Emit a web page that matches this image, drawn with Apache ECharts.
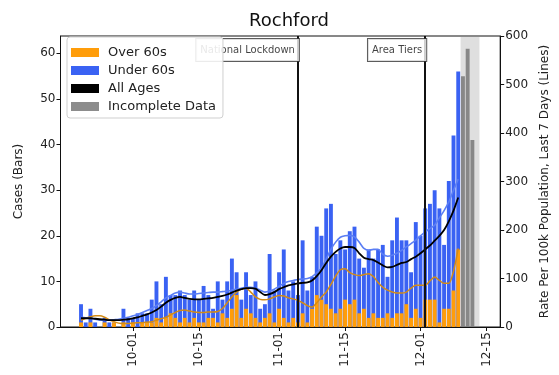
<!DOCTYPE html>
<html><head><meta charset="utf-8">
<script src="https://cdn.jsdelivr.net/npm/echarts@6/dist/echarts.min.js"></script>
<style>html,body{margin:0;padding:0;background:#fff}#c{width:559px;height:375px}</style>
</head><body><div id="c"></div>
<script>
const chartTitle = 'Rochford';
const firstDate = '2020-09-20';
// daily cases, over 60s (orange, bottom of stack)
const over60 = [1,0,1,0,0,1,0,1,0,1,0,
  1,0,1,1,1,2,1,2,3,2,
  1,2,1,2,1,1,2,2,1,3,
  2,4,7,2,4,3,2,1,2,3,
  1,4,2,1,2,1,3,1,4,7,
  6,5,4,3,4,6,5,6,3,4,
  2,3,2,2,3,2,3,3,5,2,
  4,2,6,6,6,1,4,4,8,17];
// daily cases, under 60s (blue, top of stack)
const under60 = [4,1,3,1,0,1,1,0,0,3,2,
  1,3,2,2,5,8,4,9,4,5,
  7,5,5,6,5,8,5,2,9,3,
  8,11,5,4,8,4,8,3,3,13,
  7,8,15,7,8,6,16,7,7,15,
  14,21,23,13,15,11,16,16,12,9,
  15,12,15,16,8,17,21,16,14,10,
  19,18,20,21,24,25,14,28,34,39];
const incompleteFirstDate = '2020-12-10';
const incomplete = [55, 61, 41, 0];
// rate per 100k, last 7 days
const rateAll = [18,18,18,17,16,15,14,14,14,15,16,
  18,20,23,26,30,35,42,50,56,60,
  62,60,58,57,57,58,59,60,62,64,
  67,71,75,78,80,80,79,72,66,68,
  72,78,82,86,88,90,91,92,96,105,
  117,132,145,155,162,165,165,163,152,143,
  140,138,133,127,123,124,128,132,134,140,
  145,152,160,168,178,188,200,218,240,267];
const rateOver60 = [14,18,21,23,23,20,15,11,8,7,7,
  8,9,9,10,11,14,17,20,25,30,
  34,35,33,31,30,30,31,31,32,38,
  50,62,72,78,80,72,62,57,56,58,
  62,65,64,60,58,55,50,44,41,50,
  62,72,88,105,118,120,112,108,106,108,
  110,104,92,82,76,72,70,70,72,80,
  86,86,86,95,103,96,90,90,115,162];
const rateUnder60 = [20,19,18,16,14,14,14,15,16,18,20,
  23,26,30,34,38,44,52,60,65,70,
  72,70,68,68,69,70,71,72,72,73,
  74,76,78,80,82,82,80,76,72,74,
  78,84,90,94,96,98,99,100,104,112,
  121,140,160,175,185,188,189,186,175,162,
  158,160,160,150,146,148,152,158,165,172,
  179,188,196,203,210,225,240,258,282,305];
const xTickDates = ['2020-10-01','2020-10-15','2020-11-01','2020-11-15','2020-12-01','2020-12-15'];
const leftTicks = [0,10,20,30,40,50,60];
const rightTicks = [0,100,200,300,400,500,600];
const eventDates = ['2020-11-05','2020-12-02'];
const eventLabels = ['National Lockdown','Area Tiers'];

const REF = Date.UTC(2020, 9, 1);
const day = s => (Date.parse(s + 'T00:00:00Z') - REF) / 864e5;
const d0 = day(firstDate);
const di = day(incompleteFirstDate);
const pts = arr => arr.map((v, i) => [d0 + i, v]);
// stacked top of the bar = over 60s + under 60s
const totals = over60.map((v, i) => v + under60[i]);
const fmtDay = v => { const d = new Date(REF + Math.round(v) * 864e5); return String(d.getUTCMonth() + 1).padStart(2, '0') + '-' + String(d.getUTCDate()).padStart(2, '0'); };

const FONT = 'DejaVu Sans';
const ORANGE = '#ff9d0a', BLUE = '#3a62f3', GREY = '#808080';
const chart = echarts.init(document.getElementById('c'), null, {renderer: 'canvas'});
const lineCommon = {type: 'line', yAxisIndex: 1, showSymbol: false, symbol: 'none', smooth: 0.25, z: 3};
const barCommon = {type: 'bar', barWidth: 3.9, barGap: '-100%'};
chart.setOption({
  animation: false,
  textStyle: {fontFamily: FONT},
  title: {text: chartTitle, left: 284, textAlign: 'center', top: 7,
    textStyle: {fontFamily: FONT, fontSize: 18, fontWeight: 'normal', color: '#111'}},
  grid: {left: 60.5, right: 52, top: 36, bottom: 48, show: true, borderColor: '#111', borderWidth: 1},
  legend: {
    orient: 'vertical', left: 67, top: 37, itemWidth: 28, itemHeight: 9, itemGap: 5,
    padding: [9, 7, 5, 4], backgroundColor: 'rgba(255,255,255,0.88)', borderColor: '#cfcfcf',
    borderWidth: 1, borderRadius: 3, icon: 'rect', z: 10,
    textStyle: {fontFamily: FONT, fontSize: 13, color: '#222', padding: [0, 0, 0, 4]},
    data: ['Over 60s', 'Under 60s', 'All Ages', 'Incomplete Data']
  },
  xAxis: {
    type: 'value', min: -15.35, max: 77.9, splitLine: {show: false},
    axisLine: {onZero: false, lineStyle: {color: '#111'}},
    axisTick: {show: true, length: 4, lineStyle: {color: '#111'}, customValues: xTickDates.map(day)},
    axisLabel: {rotate: 90, fontSize: 12, color: '#222', margin: 5, customValues: xTickDates.map(day), formatter: fmtDay}
  },
  yAxis: [{
    type: 'value', min: 0, max: 63.8, splitLine: {show: false},
    name: 'Cases (Bars)', nameLocation: 'middle', nameGap: 36,
    nameTextStyle: {fontSize: 12, color: '#222', fontFamily: FONT},
    axisLine: {show: true, onZero: false, lineStyle: {color: '#111'}},
    axisTick: {show: true, length: 4, lineStyle: {color: '#111'}, customValues: leftTicks},
    axisLabel: {fontSize: 12, color: '#222', margin: 5, customValues: leftTicks}
  }, {
    type: 'value', min: 0, max: 600, position: 'right', splitLine: {show: false},
    name: 'Rate Per 100k Population, Last 7 Days (Lines)', nameLocation: 'middle', nameGap: 36, nameRotate: 90,
    nameTextStyle: {fontSize: 12, color: '#222', fontFamily: FONT},
    axisLine: {show: true, onZero: false, lineStyle: {color: '#111'}},
    axisTick: {show: true, length: 4, lineStyle: {color: '#111'}, customValues: rightTicks},
    axisLabel: {fontSize: 12, color: '#222', margin: 5, customValues: rightTicks}
  }],
  series: [
    Object.assign({name: 'Under 60s', data: pts(totals), itemStyle: {color: BLUE}}, barCommon),
    Object.assign({name: 'Over 60s', data: pts(over60), itemStyle: {color: ORANGE}}, barCommon),
    Object.assign({name: 'Incomplete Data', data: incomplete.map((v, i) => [di + i, v]), itemStyle: {color: GREY, opacity: 0.9},
      markArea: {silent: true, itemStyle: {color: 'rgba(140,140,140,0.28)'},
        data: [[{xAxis: di - 0.5}, {xAxis: di + incomplete.length - 0.5}]]}}, barCommon),
    Object.assign({name: 'Over 60s Rate', data: pts(rateOver60), lineStyle: {color: '#d38b16', width: 1.5}, itemStyle: {color: '#d38b16'}}, lineCommon),
    Object.assign({name: 'Under 60s Rate', data: pts(rateUnder60), lineStyle: {color: '#5b7ef4', width: 1.6}, itemStyle: {color: '#5b7ef4'}}, lineCommon),
    Object.assign({name: 'All Ages', data: pts(rateAll), lineStyle: {color: '#000', width: 1.8}, itemStyle: {color: '#000'},
      markLine: {silent: true, symbol: 'none', lineStyle: {color: '#111', width: 2, type: 'solid'}, label: {show: false},
        data: eventDates.map(s => ({xAxis: day(s)}))}}, lineCommon, {z: 4}),
    {name: 'events', type: 'scatter', symbolSize: 0, z: 5, silent: true,
      data: eventDates.map((s, i) => [day(s), 63.8, eventLabels[i]]),
      label: {show: true, position: [1, 3], align: 'right', verticalAlign: 'top', formatter: p => p.data[2],
        fontSize: 10, color: '#111', backgroundColor: '#fff', borderColor: '#333', borderWidth: 1, padding: [6, 4, 6, 4]}}
  ]
});
</script></body></html>
